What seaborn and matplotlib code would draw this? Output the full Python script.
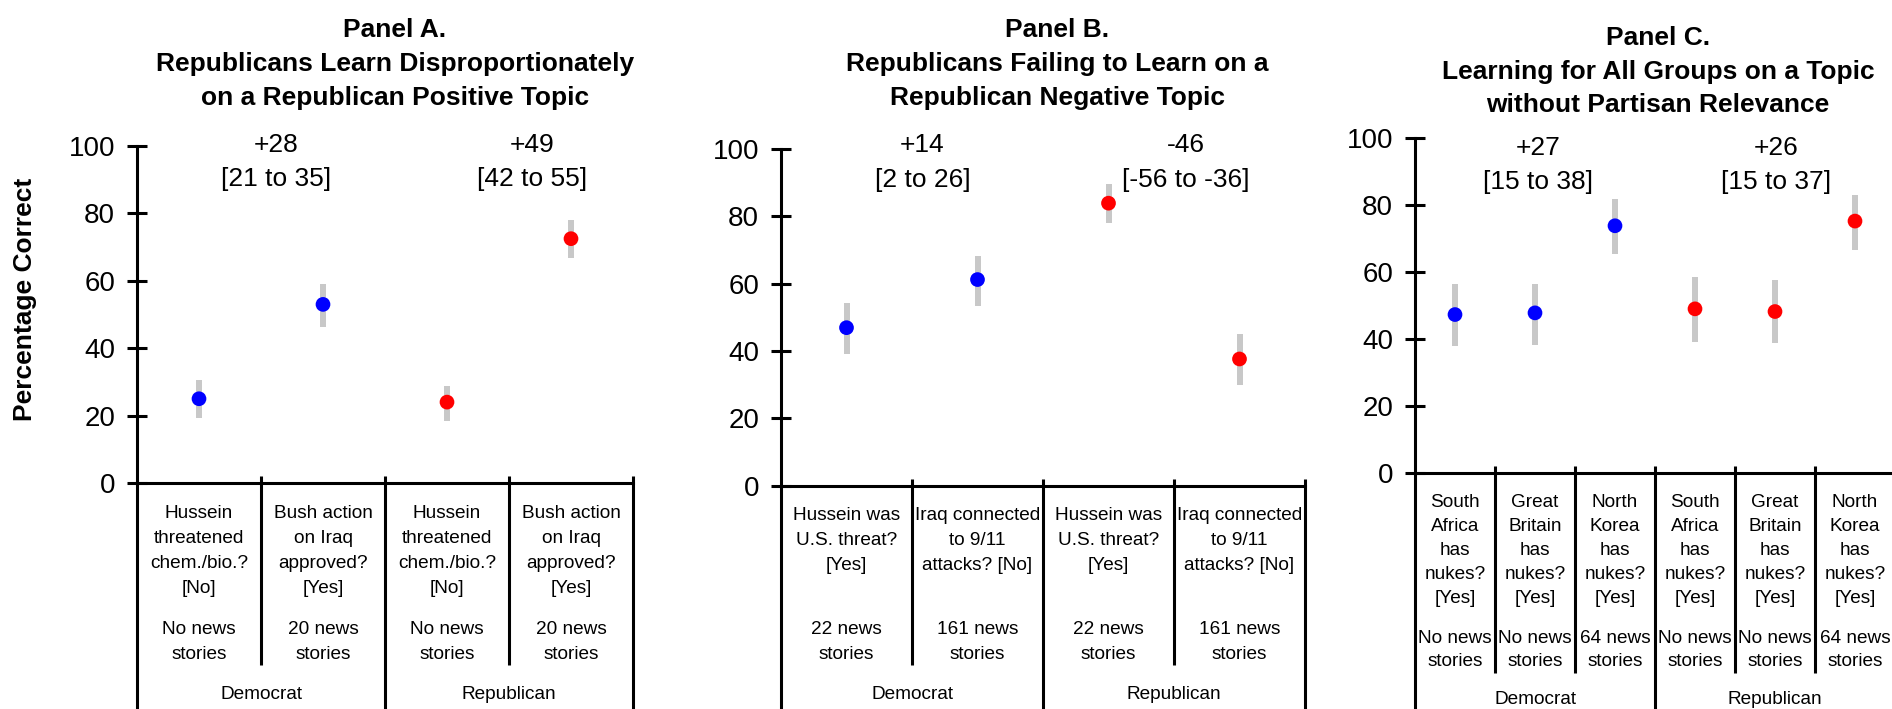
import numpy as np
import pandas as pd
import matplotlib
matplotlib.use("Agg")
import matplotlib.pyplot as plt
import seaborn as sns
from matplotlib.transforms import blended_transform_factory

# ---------------- data ----------------
parties = ["Democrat", "Republican"]

a_title = ["Panel A.", "Republicans Learn Disproportionately", "on a Republican Positive Topic"]
a_questions = ["Hussein\nthreatened\nchem./bio.?\n[No]", "Bush action\non Iraq\napproved?\n[Yes]"]
a_news = ["No news\nstories", "20 news\nstories"]
a_dem_pct = [25.0, 53.0]
a_dem_lo = [19.3, 46.2]
a_dem_hi = [30.6, 59.1]
a_rep_pct = [24.0, 72.5]
a_rep_lo = [18.4, 66.7]
a_rep_hi = [28.7, 78.0]
a_diff = ["+28", "+49"]
a_diff_ci = ["[21 to 35]", "[42 to 55]"]

b_title = ["Panel B.", "Republicans Failing to Learn on a", "Republican Negative Topic"]
b_questions = ["Hussein was\nU.S. threat?\n[Yes]", "Iraq connected\nto 9/11\nattacks? [No]"]
b_news = ["22 news\nstories", "161 news\nstories"]
b_dem_pct = [46.9, 61.2]
b_dem_lo = [39.0, 53.2]
b_dem_hi = [54.2, 68.1]
b_rep_pct = [83.9, 37.6]
b_rep_lo = [78.1, 29.8]
b_rep_hi = [89.5, 44.9]
b_diff = ["+14", "-46"]
b_diff_ci = ["[2 to 26]", "[-56 to -36]"]

c_title = ["Panel C.", "Learning for All Groups on a Topic", "without Partisan Relevance"]
c_questions = ["South\nAfrica\nhas\nnukes?\n[Yes]", "Great\nBritain\nhas\nnukes?\n[Yes]",
               "North\nKorea\nhas\nnukes?\n[Yes]"]
c_news = ["No news\nstories", "No news\nstories", "64 news\nstories"]
c_dem_pct = [47.3, 47.8, 73.8]
c_dem_lo = [38.0, 38.3, 65.4]
c_dem_hi = [56.3, 56.3, 81.9]
c_rep_pct = [49.0, 48.2, 75.2]
c_rep_lo = [39.1, 38.8, 66.6]
c_rep_hi = [58.4, 57.5, 83.1]
c_diff = ["+27", "+26"]
c_diff_ci = ["[15 to 38]", "[15 to 37]"]

y_ticks = [0, 20, 40, 60, 80, 100]
y_label = "Percentage Correct"
colors = {"Democrat": "#0000FF", "Republican": "#FF0000"}
ci_color = "#C8C8C8"

# ---------------- figure ----------------
sns.set_theme(style="white")
plt.rcParams['font.family'] = ['Liberation Sans', 'DejaVu Sans']

W, H, DPI = 1892, 709, 100
fig = plt.figure(figsize=(W / DPI, H / DPI), dpi=DPI)
fig.patch.set_facecolor("white")

LW = 2.2


def make_df(dem_pct, dem_lo, dem_hi, rep_pct, rep_lo, rep_hi):
    n = len(dem_pct)
    return pd.DataFrame({
        "x": list(range(n)) + list(range(n, 2 * n)),
        "party": ["Democrat"] * n + ["Republican"] * n,
        "pct": dem_pct + rep_pct,
        "lo": dem_lo + rep_lo,
        "hi": dem_hi + rep_hi,
    })


def panel(left, right, y0, y100, df, title, title_x, title_base, questions, news,
          q_base, news_base, group_base, div_bottom, diff, diff_ci, diff_x, diff_y, show_ylabel=False):
    ax = fig.add_axes([left / W, (H - y0) / H, (right - left) / W, (y0 - y100) / H])
    ax.set_facecolor("none")
    n = len(df)
    k = n // 2
    ax.vlines(df["x"], df["lo"], df["hi"], color=ci_color, lw=4.3, zorder=2)
    sns.scatterplot(data=df, x="x", y="pct", hue="party", palette=colors, s=112,
                    linewidth=0, legend=False, ax=ax, zorder=3)
    ax.set_xlim(-0.5, n - 0.5)
    ax.set_ylim(0, 100)
    ax.set_xticks([])
    ax.set_yticks(y_ticks)
    ax.set_xlabel("")
    ax.set_ylabel("")
    for s in ["top", "right"]:
        ax.spines[s].set_visible(False)
    for s in ["left", "bottom"]:
        ax.spines[s].set_visible(True)
        ax.spines[s].set_color("black")
        ax.spines[s].set_linewidth(LW)
    ax.tick_params(axis="y", direction="inout", length=14.4, width=LW, pad=8.6,
                   labelsize=20, colors="black", left=True)
    ax.grid(False)

    tr = blended_transform_factory(ax.transData, fig.transFigure)
    fy = lambda p: (H - p) / H
    # lines below axis
    ax.plot([-0.5, -0.5], [fy(y0), fy(H + 2)], color="black", lw=LW, transform=tr,
            clip_on=False, solid_capstyle="butt")
    for b in [k - 0.5, n - 0.5]:
        ax.plot([b, b], [fy(y0 - 7), fy(H + 2)], color="black", lw=LW, transform=tr,
                clip_on=False, solid_capstyle="butt")
    for g in range(2):
        for j in range(k - 1):
            b = g * k + j + 0.5
            ax.plot([b, b], [fy(y0 - 7), fy(div_bottom)], color="black", lw=LW,
                    transform=tr, clip_on=False, solid_capstyle="butt")
    # category labels
    for i in range(n):
        q = questions[i % k].split("\n")
        for li, line in enumerate(q):
            ax.text(i, fy(q_base[li]), line, transform=tr, ha="center", va="baseline",
                    fontsize=13.7, color="black")
        nw = news[i % k].split("\n")
        for li, line in enumerate(nw):
            ax.text(i, fy(news_base[li]), line, transform=tr, ha="center", va="baseline",
                    fontsize=13.7, color="black")
    for g, p in enumerate(parties):
        ax.text(g * k + (k - 1) / 2, fy(group_base), p, transform=tr, ha="center",
                va="baseline", fontsize=13.7, color="black")
    # difference annotations
    for g in range(2):
        ax.text(diff_x[g], diff_y[0], diff[g], ha="center", va="baseline", fontsize=19,
                color="black", clip_on=False)
        ax.text(diff_x[g], diff_y[1], diff_ci[g], ha="center", va="baseline", fontsize=19,
                color="black", clip_on=False)
    # title
    for li, line in enumerate(title):
        fig.text(title_x / W, fy(title_base[li]), line, ha="center", va="baseline",
                 fontsize=19, fontweight="bold", color="black")
    return ax


dfa = make_df(a_dem_pct, a_dem_lo, a_dem_hi, a_rep_pct, a_rep_lo, a_rep_hi)
dfb = make_df(b_dem_pct, b_dem_lo, b_dem_hi, b_rep_pct, b_rep_lo, b_rep_hi)
dfc = make_df(c_dem_pct, c_dem_lo, c_dem_hi, c_rep_pct, c_rep_lo, c_rep_hi)

panel(137, 633, 483, 146, dfa, a_title, 395, [37, 71, 105], a_questions, a_news,
      [518, 543, 568, 593], [634, 659], 699, 665, a_diff, a_diff_ci,
      [0.62, 2.69], [98.1, 88.2])
panel(781, 1305, 485.5, 149, dfb, b_title, 1057, [37, 71, 105], b_questions, b_news,
      [520, 545, 570], [634, 659], 699, 665, b_diff, b_diff_ci,
      [0.58, 2.59], [99.2, 88.6])
panel(1415, 1895, 473, 138, dfc, c_title, 1658, [45, 79, 112], c_questions, c_news,
      [507, 531, 555, 579, 603], [643, 666], 704, 673, c_diff, c_diff_ci,
      [1.04, 4.01], [94.8, 84.7])

fig.text(25 / W, (H - 299) / H, y_label, rotation=90, ha="center", va="center",
         fontsize=19, fontweight="bold", color="black")

fig.savefig("out.png", dpi=DPI, facecolor="white")
